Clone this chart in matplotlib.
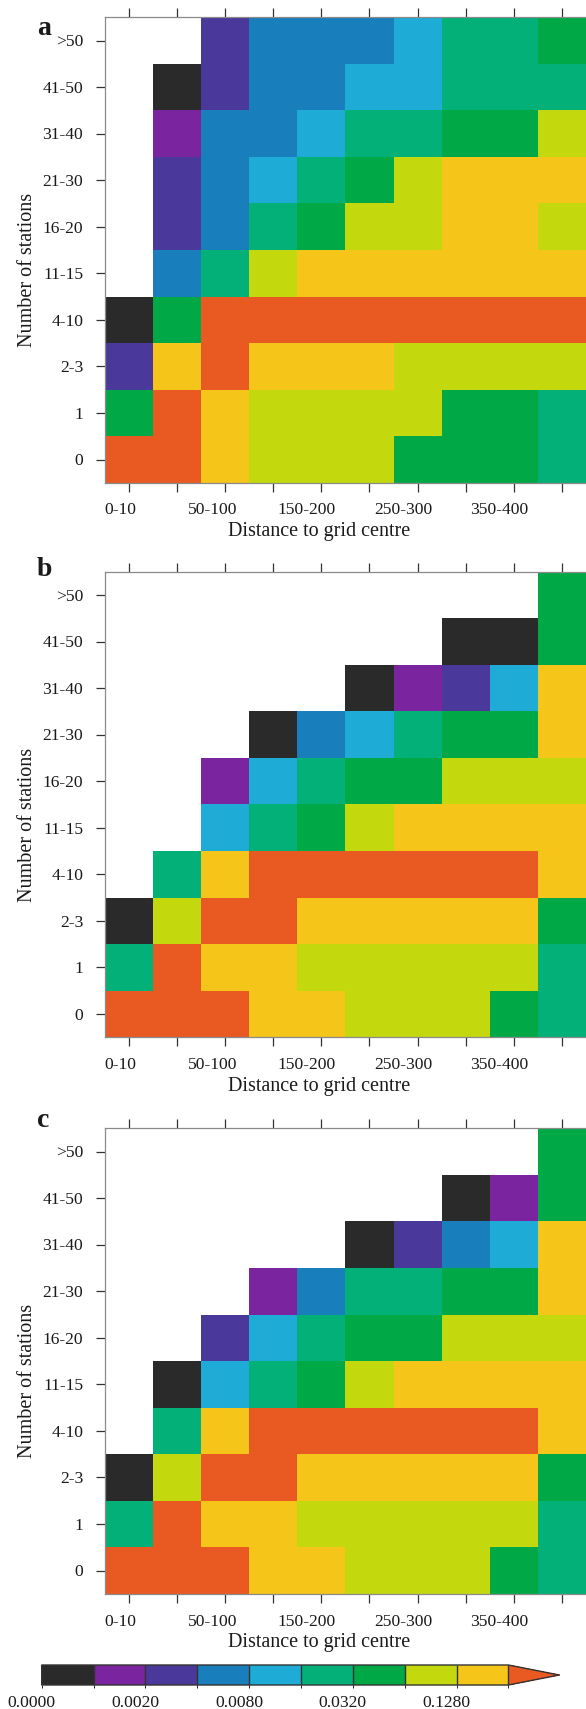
import numpy as np
import matplotlib
matplotlib.use("Agg")
import matplotlib.pyplot as plt
from matplotlib.colors import ListedColormap, BoundaryNorm
from matplotlib.cm import ScalarMappable
from matplotlib.transforms import ScaledTranslation, blended_transform_factory

plt.rcParams['font.family'] = ['Liberation Serif', 'DejaVu Serif']
TXT = '#1a1a1a'

# ---------------- data ----------------
row_labels = ["0", "1", "2-3", "4-10", "11-15", "16-20", "21-30", "31-40", "41-50", ">50"]
col_labels = ["0-10", "10-50", "50-100", "100-150", "150-200", "200-250",
              "250-300", "300-350", "350-400", ">400"]
panel_letters = ["a", "b", "c"]

N = np.nan
# rows listed top (>50) to bottom (0)
panel_a = [
    [N, N, .003, .006, .006, .006, .012, .024, .024, .048],
    [N, 0, .003, .006, .006, .012, .012, .024, .024, .024],
    [N, .0015, .006, .006, .012, .024, .024, .048, .048, .096],
    [N, .003, .006, .012, .024, .048, .096, .19, .19, .19],
    [N, .003, .006, .024, .048, .096, .096, .19, .19, .096],
    [N, .006, .024, .096, .19, .19, .19, .19, .19, .19],
    [0, .048, .35, .35, .35, .35, .35, .35, .35, .35],
    [.003, .19, .35, .19, .19, .19, .096, .096, .096, .096],
    [.048, .35, .19, .096, .096, .096, .096, .048, .048, .024],
    [.35, .35, .19, .096, .096, .096, .048, .048, .048, .024],
]
panel_b = [
    [N, N, N, N, N, N, N, N, N, .048],
    [N, N, N, N, N, N, N, 0, 0, .048],
    [N, N, N, N, N, 0, .0015, .003, .012, .19],
    [N, N, N, 0, .006, .012, .024, .048, .048, .19],
    [N, N, .0015, .012, .024, .048, .048, .096, .096, .096],
    [N, N, .012, .024, .048, .096, .19, .19, .19, .19],
    [N, .024, .19, .35, .35, .35, .35, .35, .35, .19],
    [0, .096, .35, .35, .19, .19, .19, .19, .19, .048],
    [.024, .35, .19, .19, .096, .096, .096, .096, .096, .024],
    [.35, .35, .35, .19, .19, .096, .096, .096, .048, .024],
]
panel_c = [
    [N, N, N, N, N, N, N, N, N, .048],
    [N, N, N, N, N, N, N, 0, .0015, .048],
    [N, N, N, N, N, 0, .003, .006, .012, .19],
    [N, N, N, .0015, .006, .024, .024, .048, .048, .19],
    [N, N, .003, .012, .024, .048, .048, .096, .096, .096],
    [N, 0, .012, .024, .048, .096, .19, .19, .19, .19],
    [N, .024, .19, .35, .35, .35, .35, .35, .35, .19],
    [0, .096, .35, .35, .19, .19, .19, .19, .19, .048],
    [.024, .35, .19, .19, .096, .096, .096, .096, .096, .024],
    [.35, .35, .35, .19, .19, .096, .096, .096, .048, .024],
]
panels = [panel_a, panel_b, panel_c]

bounds = [0, 0.001, 0.002, 0.004, 0.008, 0.016, 0.032, 0.064, 0.128, 0.256]
cbar_ticks = [0, 0.002, 0.008, 0.032, 0.128]
colors = ['#2a2a2a', '#7a24a0', '#4a389b', '#187fbc', '#1eabd6',
          '#03b077', '#00a946', '#c3d90e', '#f5c51a']
over_color = '#e85a21'

# ---------------- figure ----------------
W, H, DPI = 586, 1709, 100
fig = plt.figure(figsize=(W / DPI, H / DPI), dpi=DPI)
px = lambda v: v / DPI

cmap = ListedColormap(colors)
cmap.set_over(over_color)
cmap.set_bad('white')
norm = BoundaryNorm(bounds, cmap.N)

AX_L, AX_W, AX_H = 104.6, 481.6, 465.5
tops = [17.3, 571.7, 1128.3]
letter_baselines = [35, 576, 1127]

xtick_texts = []
for k, (data, top) in enumerate(zip(panels, tops)):
    ax = fig.add_axes([AX_L / W, 1 - (top + AX_H) / H, AX_W / W, AX_H / H])
    arr = np.ma.masked_invalid(np.array(data, dtype=float)[::-1])
    ax.pcolormesh(np.arange(11), np.arange(11), arr, cmap=cmap, norm=norm,
                  antialiased=False, linewidth=0)
    ax.set_xlim(0, 10)
    ax.set_ylim(0, 10)
    ax.set_xticks(np.arange(10) + 0.5)
    ax.set_yticks(np.arange(10) + 0.5)
    ax.set_xticklabels([])
    ax.set_yticklabels([])
    ax.tick_params(axis='x', top=True, bottom=True, direction='out', length=6.2,
                   width=0.9, color='#333333', labelbottom=False, labeltop=False)
    ax.tick_params(axis='y', left=True, right=False, direction='out', length=6.5,
                   width=0.9, color='#333333', labelleft=False)
    ax.spines['right'].set_visible(False)
    for s in ['left', 'top', 'bottom']:
        ax.spines[s].set_color('#8a8a8a')
        ax.spines[s].set_linewidth(0.9)

    xt = blended_transform_factory(ax.transData, ax.transAxes)
    for i in range(0, 10, 2):
        t = ax.text(i + 0.5, 0, col_labels[i],
                    transform=xt + ScaledTranslation(0, px(-31.7), fig.dpi_scale_trans),
                    ha='center', va='baseline', fontsize=12.6, color=TXT)
        xtick_texts.append(t)
    yt = blended_transform_factory(ax.transAxes, ax.transData)
    for j in range(10):
        ax.text(0, j + 0.5, row_labels[j],
                transform=yt + ScaledTranslation(px(-21.3), px(-5.8), fig.dpi_scale_trans),
                ha='right', va='baseline', fontsize=12.6, color=TXT)
    ax.text(0.5, 0, 'Distance to grid centre',
            transform=ax.transAxes + ScaledTranslation(px(-26), px(-53.4), fig.dpi_scale_trans),
            ha='center', va='baseline', fontsize=14.5, color=TXT)
    ax.text(0, 0.5, 'Number of stations', rotation=90, rotation_mode='anchor',
            transform=ax.transAxes + ScaledTranslation(px(31.7 - AX_L), px(-20), fig.dpi_scale_trans),
            ha='center', va='baseline', fontsize=14.5, color=TXT)
    fig.text(37 / W, 1 - letter_baselines[k] / H, panel_letters[k], fontweight='bold',
             fontsize=20, ha='left', va='baseline', color=TXT)

# colorbar
cax = fig.add_axes([41.7 / W, 1 - 1685 / H, (559.3 - 41.7) / W, 20 / H])
sm = ScalarMappable(norm=norm, cmap=cmap)
cbar = fig.colorbar(sm, cax=cax, orientation='horizontal', extend='max',
                    extendfrac=0.109, drawedges=True)
cbar.outline.set_edgecolor('#333333')
cbar.outline.set_linewidth(1.0)
cbar.dividers.set_color('#333333')
cbar.dividers.set_linewidth(1.0)
cbar.set_ticks([])
cbt = blended_transform_factory(cax.transData, cax.transAxes)
for v in cbar_ticks:
    cax.text(v, 0, f"{v:.4f}",
             transform=cbt + ScaledTranslation(px(-10), px(-21.7), fig.dpi_scale_trans),
             ha='center', va='baseline', fontsize=12.6, color=TXT)

# shift x tick labels left by a quarter of their width (as in reference)
fig.canvas.draw()
r = fig.canvas.get_renderer()
for t in xtick_texts:
    w = t.get_window_extent(r).width
    t.set_transform(t.get_transform() + ScaledTranslation(px(-w / 4), 0, fig.dpi_scale_trans))

fig.savefig('out.png', dpi=DPI)
